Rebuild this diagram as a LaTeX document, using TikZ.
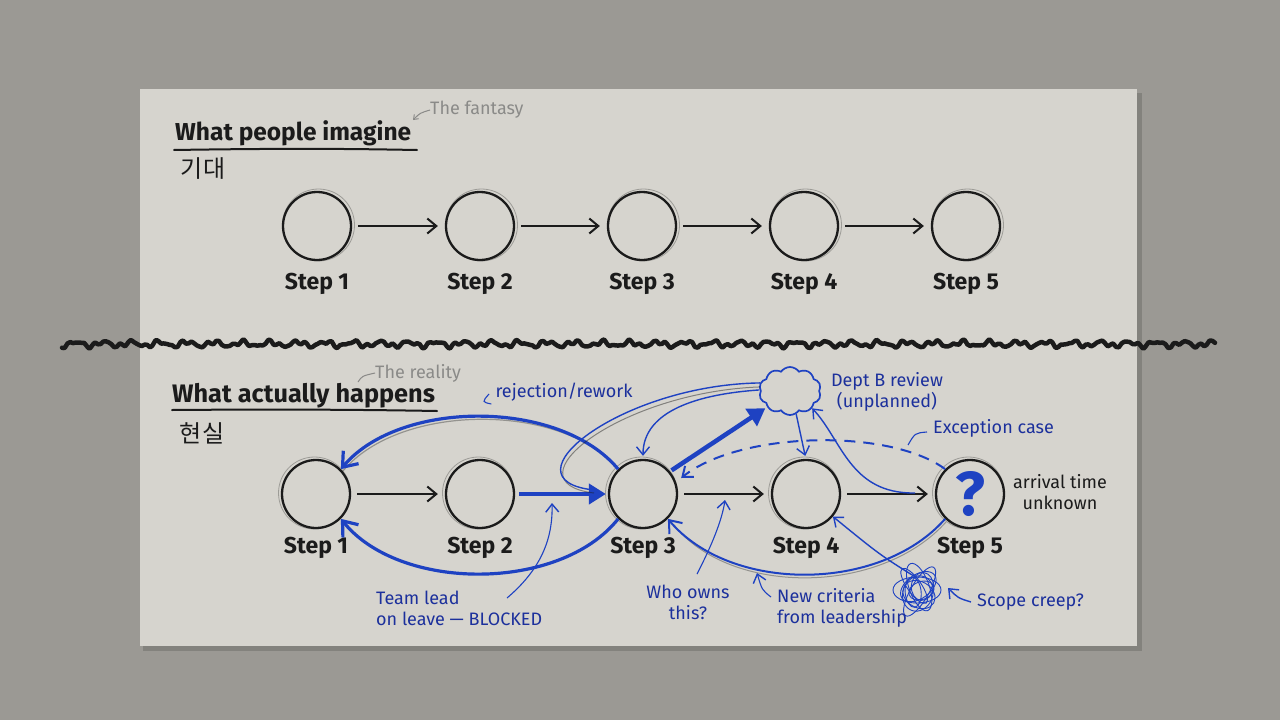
\documentclass[tikz,border=0pt]{standalone}
\usepackage{fontspec}
\setmainfont{Fira Sans}
\newfontfamily\krfont{Noto Sans CJK KR}
\usetikzlibrary{arrows.meta,shapes.symbols,calc}
\definecolor{bgc}{HTML}{9B9994}
\definecolor{paperc}{HTML}{D6D4CE}
\definecolor{ink}{HTML}{1B1B1B}
\definecolor{pen}{HTML}{1E42C2}
\definecolor{pentext}{HTML}{1C309C}
\definecolor{grayt}{HTML}{8A8A88}
\tikzset{
  stepc/.style={circle, draw=ink, line width=2.3pt, minimum size=68pt, inner sep=0pt},
  steplab/.style={font=\fontsize{23}{26}\selectfont\bfseries, text=ink},
  titlef/.style={font=\fontsize{24.5}{28}\selectfont\bfseries, text=ink, inner sep=0pt},
  blk/.style={draw=ink, line width=2pt, shorten <=6pt, shorten >=7pt, -{Straight Barb[length=9pt,width=15pt,line width=2pt]}},
  bthick/.style={draw=pen, line width=4.5pt, -{Triangle[length=17pt,width=20pt]}},
  bmid/.style={draw=pen, line width=3.2pt, -{Straight Barb[length=13pt,width=20pt,line width=3.2pt]}},
  bthin/.style={draw=pen, line width=1.4pt, -{Straight Barb[length=8pt,width=13pt,line width=1.4pt]}},
  bline/.style={draw=pen, line width=1.4pt},
  note/.style={text=pentext, font=\fontsize{18}{21}\selectfont, inner sep=0pt},
  gnote/.style={text=grayt, font=\fontsize{18}{20}\selectfont, inner sep=0pt},
  echo/.style={draw=ink, opacity=0.3, line width=0.8pt},
}
\begin{document}
\begin{tikzpicture}[x=1pt,y=-1pt]
\useasboundingbox (0,0) rectangle (1280,720);
\fill[bgc] (0,0) rectangle (1280,720);
\fill[black,opacity=0.15] (143,93) rectangle (1142,651);
\fill[paperc] (140,89) rectangle (1137,646);

% ---------- top: the fantasy ----------
\node[titlef, anchor=base west] (t1) at (175,140) {What people imagine};
\draw[ink, line width=2pt, line cap=round] (174,150) .. controls (300,148) and (360,149) .. (417,150);
\node[font=\krfont\fontsize{24}{28}\selectfont, text=ink, inner sep=0pt] (k1) at (203,169) {기대};
\node[gnote, anchor=west] (fan) at (430,110) {The fantasy};
\draw[grayt, line width=1pt, -{Straight Barb[length=4pt,width=6pt]}] (fan.west) .. controls (420,113) .. (413,120);

\foreach \i/\x in {1/317,2/480,3/642,4/804,5/966}{
  \node[stepc] (a\i) at (\x,226) {};
  \draw[echo] ($(a\i)+(1.5,-1)$) circle (36pt);
  \node[steplab] (la\i) at (\x,284) {Step \i};
}
\draw[blk] (a1) -- (a2);
\draw[blk] (a2) -- (a3);
\draw[blk] (a3) -- (a4);
\draw[blk] (a4) -- (a5);

% ---------- torn line ----------
\draw[ink, line width=4.5pt, line cap=round, line join=round]
  plot[domain=62:1215, samples=420, smooth] (\x, {344+2.2*sin(mod(\x,360)*13)+1.6*sin(mod(\x,360)*29+40)+1.0*sin(mod(\x,360)*41+10)});

% ---------- bottom: the reality ----------
\node[titlef, font=\fontsize{25.3}{28}\selectfont\bfseries, anchor=base west] (t2) at (172,402) {What actually happens};
\draw[ink, line width=2pt, line cap=round] (172,410) .. controls (300,409) and (380,410) .. (437,411);
\node[font=\krfont\fontsize{24}{28}\selectfont, text=ink, inner sep=0pt] (k2) at (202,433) {현실};
\node[gnote, anchor=west] (real) at (375,373) {The reality};
\draw[grayt, line width=1pt] (real.west) .. controls (362,376) .. (358,382);

\foreach \i/\x in {1/316,2/480,3/643,4/806,5/970}{
  \node[stepc] (b\i) at (\x,494) {};
  \draw[echo] ($(b\i)+(-1.5,-1)$) circle (36pt);
  \node[steplab] (lb\i) at (\x,548) {Step \i};
}
\node[text=pen, font=\fontsize{62}{66}\selectfont\bfseries, inner sep=0pt] (qm) at (b5) {?};

\draw[blk] (b1) -- (b2);
\draw[blk] (b3) -- (b4);
\draw[blk] (b4) -- (b5);
\draw[bthick, shorten <=4pt, shorten >=2pt] (b2.east) -- (b3.west);

% cloud
\node[cloud, cloud puffs=10, cloud puff arc=110, aspect=1.3, draw=pen, line width=1.7pt,
      minimum width=62pt, minimum height=48pt, inner sep=0pt] (cl) at (790,391) {};
\node[note, align=center] (dept) at (887,392) {Dept B review\\(unplanned)};

% rejection / rework
\draw[draw=ink, opacity=0.35, line width=1.2pt] ($(b3.135)+(2,2)$) .. controls (565,402) and (400,402) .. ($(b1.45)+(2,2)$);
\draw[bmid] (b3.135) .. controls (560,399) and (400,399) .. (b1.45);
\node[note] (rej) at (564,392) {rejection/rework};
\draw[bline, line width=1.1pt] (rej.west)++(-4,12) .. controls (482,402) .. (489,394);

% step3 -> step1 below
\draw[bmid] (b3.-135) .. controls (560,592) and (400,592) .. (b1.-45);

% step3 -> cloud
\draw[bthick, shorten <=2pt, shorten >=2pt] (b3.40) -- (cl.215);

% cloud -> step3 (thin)
\draw[bthin, shorten >=3pt] (cl.178) .. controls (700,394) and (643,410) .. (b3.north);

% big loop cloud -> step3 left
\coordinate (loopend) at (594,490);
\draw[draw=ink, opacity=0.45, line width=1pt] ($(cl.165)+(0,4)$) .. controls (620,392) and (505,482) .. ($(loopend)+(0,3)$);
\draw[bline] (cl.165) .. controls (620,385) and (500,480) .. (loopend);

% cloud -> step4
\draw[bthin, shorten >=3pt] (cl.-75) .. controls (800,435) .. (b4.north);

% step5 (via arrow) -> cloud
\coordinate (s5in) at (915,493);
\draw[bthin] (s5in) .. controls (850,494) and (842,440) .. (cl.-38);

% exception dashed
\draw[draw=pen, line width=2pt, dash pattern=on 11pt off 8pt, -{Straight Barb[length=9pt,width=14pt,line width=2pt]}]
  (b5.135) .. controls (890,428) and (740,431) .. ($(b3.east)+(3,-16)$);
\node[note, anchor=west] (exc) at (933,428) {Exception case};
\draw[bline, line width=1.1pt] (exc.west)++(-6,4) .. controls (915,433) .. (908,445);

% step5 -> step3 below
\draw[draw=ink, opacity=0.35, line width=1pt] ($(b5.-135)+(1,3)$) .. controls (880,596) and (730,596) .. ($(b3.-45)+(6,6)$);
\draw[draw=pen, line width=2pt, -{Straight Barb[length=11pt,width=17pt,line width=2pt]}]
  (b5.-135) .. controls (880,593) and (730,593) .. (b3.-45);

% scribble
\coordinate (scr) at (917,590);
\foreach \a/\rx/\ry/\dx/\dy in {0/24/13/0/0, 35/20/12/3/-2, 70/18/15/-3/2, 110/25/10/2/3, 150/17/13/-4/-3, 20/13/9/4/2, 95/15/8/-2/-4, 60/28/9/0/3, 125/21/7/5/0, 175/11/14/-5/4}{
  \draw[pen, line width=0.9pt, rotate around={\a:(scr)}] ($(scr)+(\dx,\dy)$) ellipse ({\rx pt} and {\ry pt});
}
\draw[bthin] ($(scr)+(0,-12)$) .. controls (880,555) .. (b4.-40);
\node[note, anchor=west] (scope) at (977,602) {Scope creep?};
\draw[bthin] (scope.west) ++(-6,0) .. controls (958,598) .. (948,588);

% labels with arrows
\node[note, align=left, anchor=west] (team) at (376,608) {Team lead\\on leave — BLOCKED};
\coordinate (teamtip) at (552,503);
\draw[bthin, line width=1.1pt] (507,598) .. controls (540,570) and (553,540) .. (teamtip);

\node[note, align=center] (who) at (688,602) {Who owns\\this?};
\coordinate (whotip) at (725,500);
\draw[bthin, line width=1.1pt] (697,574) .. controls (712,545) and (722,520) .. (whotip);

\node[note, align=left, anchor=west] (crit) at (777,608) {New criteria\\from leadership};
\coordinate (crittip) at (757,573);
\draw[bthin, line width=1.1pt] (771,597) .. controls (762,590) .. (crittip);

\node[text=ink, font=\fontsize{18}{21}\selectfont, align=center, inner sep=0pt] (arr) at (1060,492) {arrival time\\unknown};
\end{tikzpicture}
\end{document}
